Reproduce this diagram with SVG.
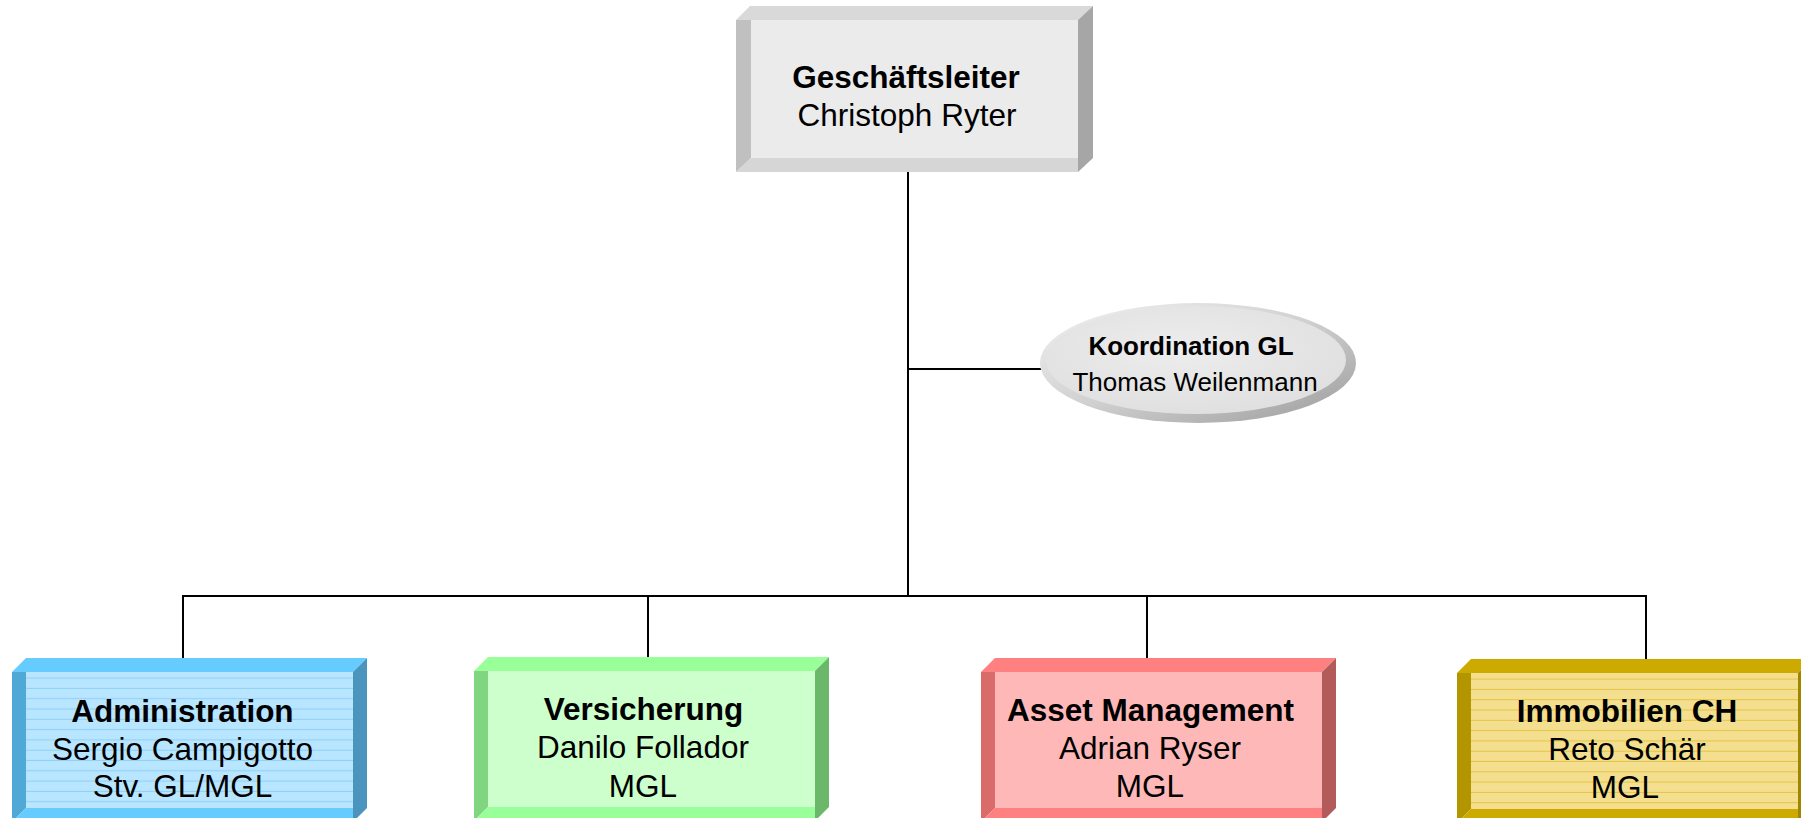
<svg xmlns="http://www.w3.org/2000/svg" xmlns:xlink="http://www.w3.org/1999/xlink" width="1801" height="818" viewBox="0 0 1801 818">
<style>
text{font-family:"Liberation Sans",Arial,sans-serif;fill:#000;text-anchor:middle}
.b{font-weight:bold}
.t{font-size:31.5px}
.s{font-size:26px}
.conn{fill:none;stroke:#000;stroke-width:2}
</style>
<defs>
<polygon id="bt" points="0,14 14,0 355,0 341,14"/>
<polygon id="bl" points="0,14 14,14 14,150 0,164"/>
<polygon id="br" points="341,14 355,0 355,150 341,164"/>
<polygon id="bb" points="0,164 14,150 341,150 341,164"/>
<rect id="bf" x="14" y="14" width="327" height="136"/>
<pattern id="stripeBlue" x="0" y="0" width="10" height="10.3" patternUnits="userSpaceOnUse">
<rect width="10" height="10.3" fill="#b8e5ff"/>
<rect y="9.3" width="10" height="1" fill="#8fd0f5"/>
</pattern>
<pattern id="stripeGold" x="0" y="0" width="10" height="10.3" patternUnits="userSpaceOnUse">
<rect width="10" height="10.3" fill="#f3df8f"/>
<rect y="9.3" width="10" height="1" fill="#e5c440"/>
</pattern>
<linearGradient id="ellOuter" x1="0" y1="0" x2="1" y2="1">
<stop offset="0" stop-color="#f2f2f2"/>
<stop offset="0.5" stop-color="#d0d0d0"/>
<stop offset="1" stop-color="#9a9a9a"/>
</linearGradient>
<radialGradient id="ellInner" cx="0.45" cy="0.4" r="0.6">
<stop offset="0" stop-color="#ededed"/>
<stop offset="1" stop-color="#e0e0e0"/>
</radialGradient>
</defs>

<g id="connectors" class="conn">
<path d="M908,172 V596"/>
<path d="M908,369 H1044"/>
<path d="M183,659 V596 H1646 V660"/>
<path d="M648,596 V658"/>
<path d="M1147,596 V659"/>
</g>

<g id="geschaeftsleiter">
<polygon points="736,20 750,6 1093,6 1078,20" fill="#d9d9d9"/>
<polygon points="736,20 751,20 751,158 736,172" fill="#c0c0c0"/>
<polygon points="1078,20 1093,6 1093,158 1078,172" fill="#a6a6a6"/>
<polygon points="736,172 751,158 1078,158 1078,172" fill="#d6d6d6"/>
<rect x="751" y="20" width="327" height="138" fill="#ebebeb"/>
<text class="t b" x="906" y="88">Geschäftsleiter</text>
<text class="t" x="907" y="126">Christoph Ryter</text>
</g>

<g id="koordination">
<ellipse cx="1198" cy="363" rx="158" ry="60" fill="url(#ellOuter)"/>
<ellipse cx="1196" cy="360" rx="150" ry="54" fill="url(#ellInner)"/>
<text class="s b" x="1191" y="355">Koordination GL</text>
<text class="s" x="1195" y="391">Thomas Weilenmann</text>
</g>

<g id="administration" transform="translate(12,658)">
<use xlink:href="#bt" fill="#66ccff"/>
<use xlink:href="#bl" fill="#4fa8d6"/>
<use xlink:href="#br" fill="#4a94bd"/>
<use xlink:href="#bb" fill="#66ccff"/>
<use xlink:href="#bf" fill="url(#stripeBlue)"/>
</g>
<g id="administration-text">
<text class="t b" x="182.5" y="722">Administration</text>
<text class="t" x="182.5" y="760">Sergio Campigotto</text>
<text class="t" x="182.5" y="797">Stv. GL/MGL</text>
</g>

<g id="versicherung" transform="translate(474,657)">
<use xlink:href="#bt" fill="#99ff99"/>
<use xlink:href="#bl" fill="#80d680"/>
<use xlink:href="#br" fill="#6bb86b"/>
<use xlink:href="#bb" fill="#99ff99"/>
<use xlink:href="#bf" fill="#ccffcc"/>
<text class="t b" x="169.5" y="63">Versicherung</text>
<text class="t" x="169" y="101">Danilo Follador</text>
<text class="t" x="169" y="140">MGL</text>
</g>

<g id="asset-management" transform="translate(981,658)">
<use xlink:href="#bt" fill="#ff8080"/>
<use xlink:href="#bl" fill="#d96b6b"/>
<use xlink:href="#br" fill="#b35a5a"/>
<use xlink:href="#bb" fill="#ff8080"/>
<use xlink:href="#bf" fill="#ffb8b8"/>
<text class="t b" x="169.5" y="63">Asset Management</text>
<text class="t" x="169" y="101">Adrian Ryser</text>
<text class="t" x="169" y="139">MGL</text>
</g>

<g id="immobilien-ch" transform="translate(1457,659)">
<use xlink:href="#bt" fill="#ccaa00"/>
<use xlink:href="#bl" fill="#b39500"/>
<use xlink:href="#br" fill="#a08500"/>
<use xlink:href="#bb" fill="#ccaa00"/>
<use xlink:href="#bf" fill="url(#stripeGold)"/>
<text class="t b" x="170" y="63">Immobilien CH</text>
<text class="t" x="170" y="101">Reto Schär</text>
<text class="t" x="168" y="139">MGL</text>
</g>
</svg>
